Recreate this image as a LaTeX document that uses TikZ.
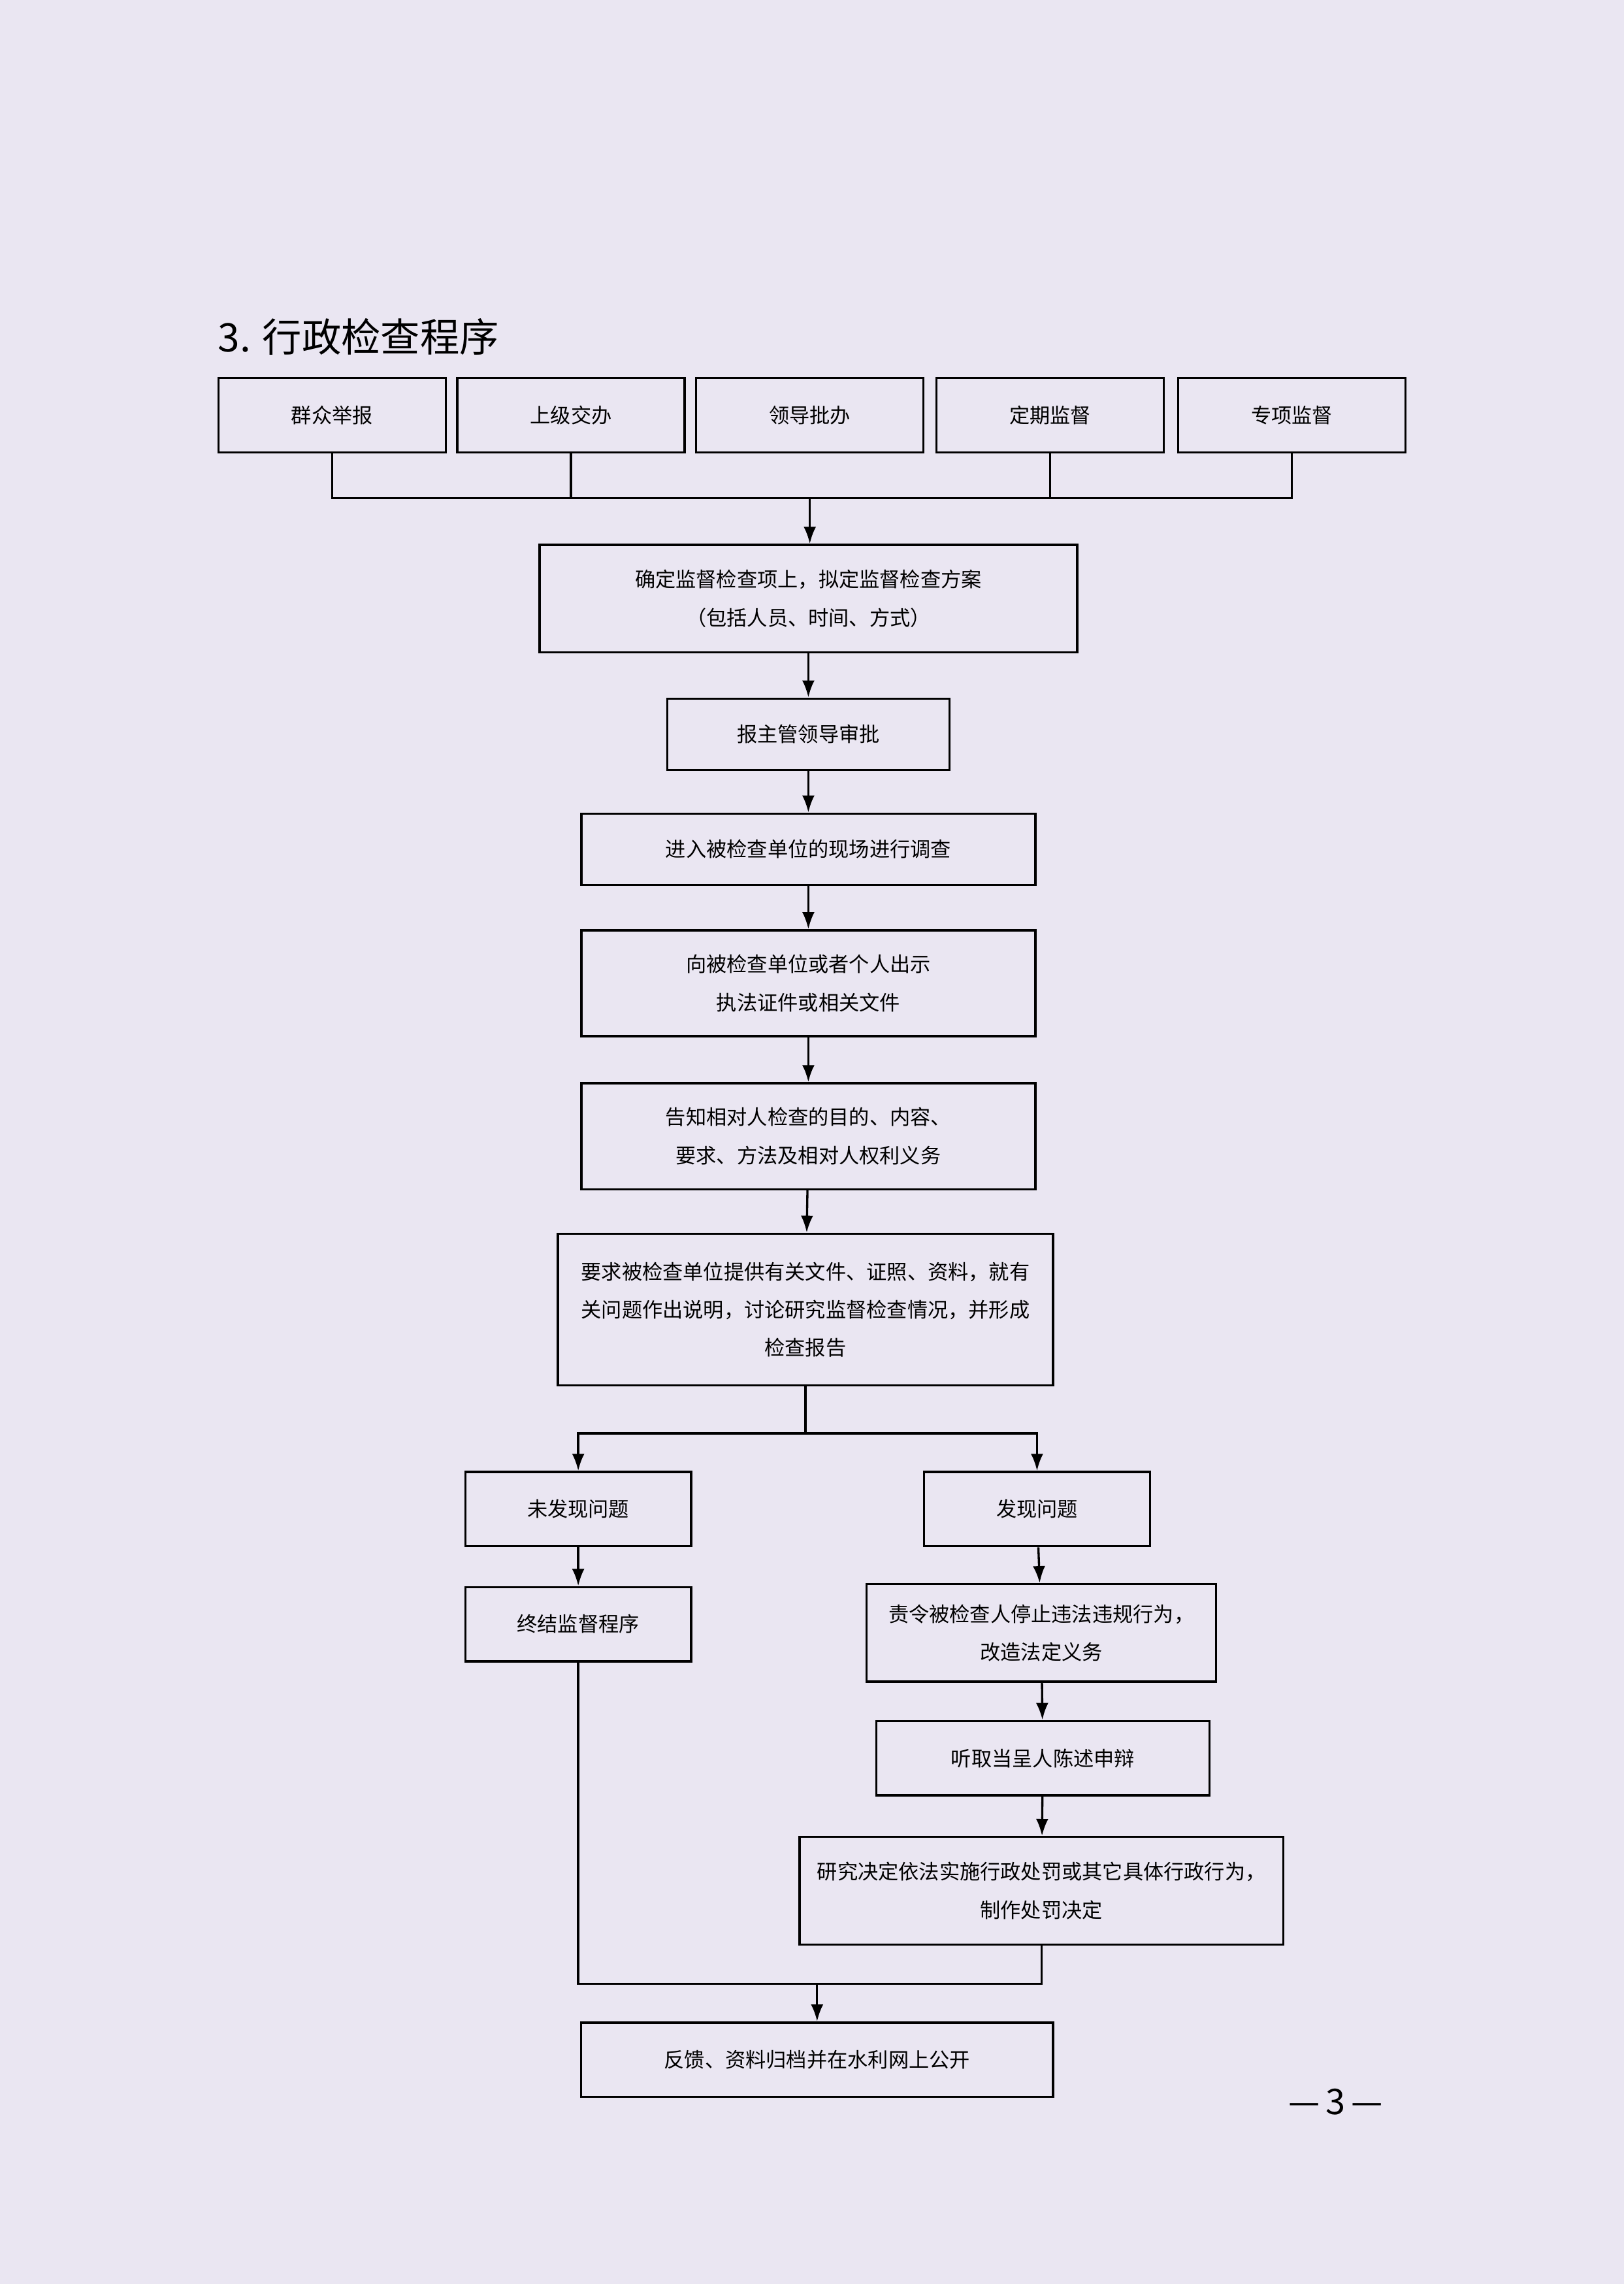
\documentclass[tikz,border=0pt]{standalone}
\usepackage{fontspec}
\setmainfont{Noto Sans CJK SC}
\usetikzlibrary{arrows.meta}
\definecolor{pagebg}{RGB}{234,230,242}
\tikzset{
	box/.style={draw, thick, align=center, inner sep=0pt, font=\fontsize{7.5}{14}\selectfont},
	flow/.style={thick, -{Latex[length=2.2mm,width=1.6mm]}},
	link/.style={thick}
}
\begin{document}
\begin{tikzpicture}[x=0.01883cm, y=-0.01883cm]
	\fill[pagebg] (0,0) rectangle (1115,1568);
	\useasboundingbox (0,0) rectangle (1115,1568);
	\node[anchor=west, font=\fontsize{14.5}{16}\selectfont] (title) at (143,231) {3. 行政检查程序};
	\node[font=\fontsize{13}{15}\selectfont] (page) at (917,1443) {—\,3\,—};

	% sources
	\node[box, minimum width=2.94cm, minimum height=0.96cm] (t1) at (228,285) {群众举报};
	\node[box, minimum width=2.94cm, minimum height=0.96cm] (t2) at (392,285) {上级交办};
	\node[box, minimum width=2.94cm, minimum height=0.96cm] (t3) at (556,285) {领导批办};
	\node[box, minimum width=2.94cm, minimum height=0.96cm] (t4) at (721,285) {定期监督};
	\node[box, minimum width=2.94cm, minimum height=0.96cm] (t5) at (887,285) {专项监督};
	\coordinate (jt) at (555,342);

	% main line
	\node[box, minimum width=6.95cm, minimum height=1.39cm] (plan) at (555,411) {确定监督检查项上，拟定监督检查方案\\（包括人员、时间、方式）};
	\node[box, minimum width=3.65cm, minimum height=0.92cm] (appr) at (555,504) {报主管领导审批};
	\node[box, minimum width=5.87cm, minimum height=0.92cm] (site) at (555,583) {进入被检查单位的现场进行调查};
	\node[box, minimum width=5.87cm, minimum height=1.37cm] (show) at (555,675) {向被检查单位或者个人出示\\执法证件或相关文件};
	\node[box, minimum width=5.87cm, minimum height=1.37cm] (tell) at (555,780) {告知相对人检查的目的、内容、\\要求、方法及相对人权利义务};
	\node[box, minimum width=6.40cm, minimum height=1.96cm] (rep) at (553,899) {要求被检查单位提供有关文件、证照、资料，就有\\关问题作出说明，讨论研究监督检查情况，并形成\\检查报告};
	\coordinate (js) at (553,984);

	% branches
	\node[box, minimum width=2.92cm, minimum height=0.96cm] (none) at (397,1036) {未发现问题};
	\node[box, minimum width=2.92cm, minimum height=0.96cm] (found) at (712,1036) {发现问题};
	\node[box, minimum width=2.92cm, minimum height=0.96cm] (end) at (397,1115) {终结监督程序};
	\node[box, minimum width=4.52cm, minimum height=1.26cm] (stop) at (715,1121) {责令被检查人停止违法违规行为，\\改造法定义务};
	\node[box, minimum width=4.31cm, minimum height=0.96cm] (hear) at (716,1207) {听取当呈人陈述申辩};
	\node[box, minimum width=6.25cm, minimum height=1.39cm] (dec) at (715,1298) {研究决定依法实施行政处罚或其它具体行政行为，\\制作处罚决定};
	\node[box, minimum width=6.10cm, minimum height=0.96cm] (fin) at (561,1414) {反馈、资料归档并在水利网上公开};
	\coordinate (jm) at (561,1362);

	\draw[link] (t1.south) |- (t5.south |- jt) -- (t5.south);
	\draw[link] (t2.south) -- (t2.south |- jt);
	\draw[link] (t4.south) -- (t4.south |- jt);
	\draw[flow] (t3.south |- jt) -- (plan.north -| t3.south);
	\draw[flow] (plan) -- (appr);
	\draw[flow] (appr) -- (site);
	\draw[flow] (site) -- (show);
	\draw[flow] (show) -- (tell);
	\draw[flow] (tell) -- (rep);
	\draw[link] (rep.south) -- (js);
	\draw[flow] (js) -| (none.north);
	\draw[flow] (js) -| (found.north);
	\draw[flow] (none) -- (end);
	\draw[flow] (found) -- (stop);
	\draw[flow] (stop) -- (hear);
	\draw[flow] (hear) -- (dec);
	\draw[link] (end.south) |- (jm) -| (dec.south);
	\draw[flow] (jm) -- (fin);
\end{tikzpicture}
\end{document}
